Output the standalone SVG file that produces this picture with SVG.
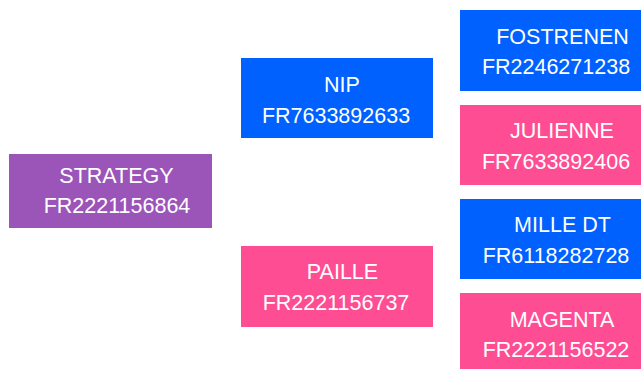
<svg xmlns="http://www.w3.org/2000/svg" width="641" height="369" viewBox="0 0 641 369">
<style>
.t{font-family:"Liberation Sans",Arial,sans-serif;font-size:21.5px;fill:#ffffff;text-anchor:middle}
.purple{fill:#9b55b9}
.blue{fill:#0061fe}
.pink{fill:#ff4d94}
</style>
<rect width="641" height="369" fill="#ffffff"/>
<g id="connectors"></g>
<g id="strategy">
<rect class="purple" x="9" y="154" width="203" height="74"/>
<text class="t" x="116.5" y="183">STRATEGY</text>
<text class="t" x="117" y="213">FR2221156864</text>
</g>
<g id="nip">
<rect class="blue" x="241" y="58" width="192" height="80"/>
<text class="t" x="342" y="92">NIP</text>
<text class="t" x="336" y="122.5">FR7633892633</text>
</g>
<g id="paille">
<rect class="pink" x="241" y="246" width="192" height="81"/>
<text class="t" x="342.5" y="278.5">PAILLE</text>
<text class="t" x="336" y="310">FR2221156737</text>
</g>
<g id="fostrenen">
<rect class="blue" x="460" y="10" width="181" height="81"/>
<text class="t" x="562.5" y="44">FOSTRENEN</text>
<text class="t" x="556" y="74">FR2246271238</text>
</g>
<g id="julienne">
<rect class="pink" x="460" y="105" width="181" height="80"/>
<text class="t" x="562" y="138">JULIENNE</text>
<text class="t" x="556" y="168.5">FR7633892406</text>
</g>
<g id="mille-dt">
<rect class="blue" x="460" y="199" width="181" height="80"/>
<text class="t" x="562.5" y="232">MILLE DT</text>
<text class="t" x="556" y="262.5">FR6118282728</text>
</g>
<g id="magenta">
<rect class="pink" x="460" y="293" width="181" height="76"/>
<text class="t" x="562" y="327">MAGENTA</text>
<text class="t" x="556" y="357">FR2221156522</text>
</g>
</svg>
